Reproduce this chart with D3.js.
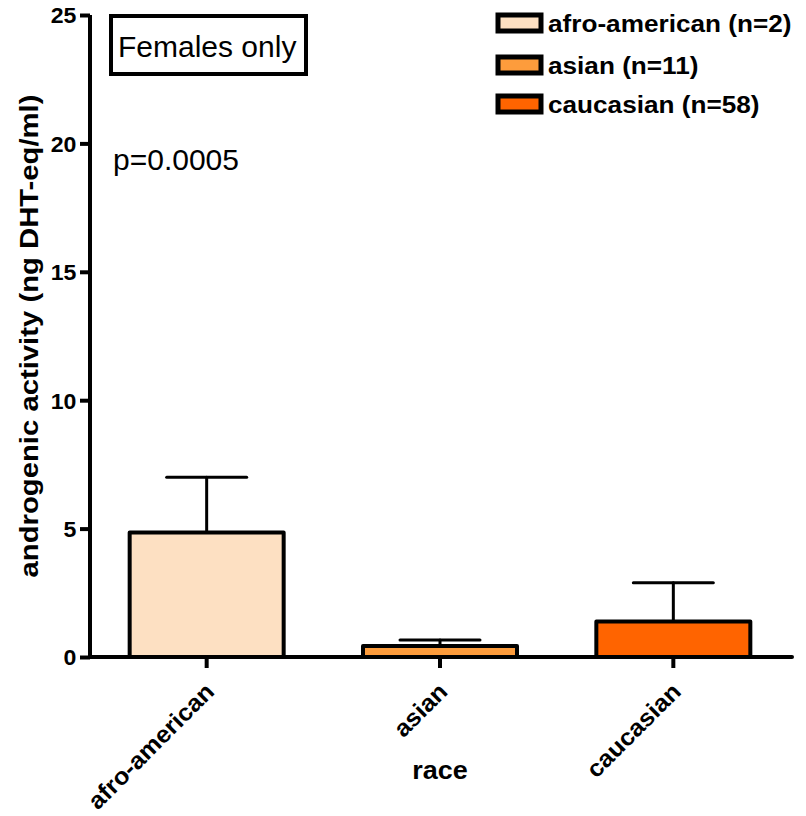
<!DOCTYPE html>
<html>
<head>
<meta charset="utf-8">
<script src="https://cdn.jsdelivr.net/npm/d3@7/dist/d3.min.js"></script>
<style>
  html, body { margin: 0; padding: 0; background: #fff; }
  svg { display: block; font-family: "Liberation Sans", Arial, Helvetica, sans-serif; }
</style>
</head>
<body>
<svg id="chart" width="806" height="816"></svg>
<script>
// Androgenic activity by race (females only): mean with upper SEM bar
const categories = ["afro-american", "asian", "caucasian"];
const means      = [4.85, 0.43, 1.38];
const errors     = [2.15, 0.23, 1.51];
const counts     = [2, 11, 58];
const colors     = ["#FDE0C2", "#FD9C3C", "#FF6400"];
const yTicks     = [0, 5, 10, 15, 20, 25];

const data = categories.map((c, i) => ({ cat: c, mean: means[i], err: errors[i], n: counts[i], color: colors[i] }));

const svg = d3.select("#chart");
const x0 = 90, x1 = 790, yBottom = 657, yTop = 15;

const x = d3.scaleBand().domain(categories).range([x0, x1]).paddingInner(0.34).paddingOuter(0.17);
const y = d3.scaleLinear().domain([0, 25]).range([yBottom, yTop]);

// bars
svg.append("g").selectAll("rect").data(data).join("rect")
  .attr("x", d => x(d.cat))
  .attr("y", d => y(d.mean))
  .attr("width", x.bandwidth())
  .attr("height", d => y(0) - y(d.mean))
  .attr("fill", d => d.color)
  .attr("stroke", "#000")
  .attr("stroke-width", 4)
  .attr("stroke-linejoin", "round");

// upper error bars
const eb = svg.append("g").attr("stroke", "#000").attr("stroke-width", 3).attr("stroke-linecap", "round");
data.forEach(d => {
  const cx = x(d.cat) + x.bandwidth() / 2;
  eb.append("line").attr("x1", cx).attr("x2", cx).attr("y1", y(d.mean)).attr("y2", y(d.mean + d.err));
  eb.append("line").attr("x1", cx - 40).attr("x2", cx + 40).attr("y1", y(d.mean + d.err)).attr("y2", y(d.mean + d.err));
});

// y axis
const yAxis = d3.axisLeft(y).tickValues(yTicks).tickSize(10).tickPadding(3).tickFormat(d3.format("d"));
const gy = svg.append("g").attr("transform", `translate(${x0},0)`).call(yAxis);
gy.select(".domain").attr("stroke", "#000").attr("stroke-width", 4).attr("d", `M0,${yBottom + 2}V${yTop}`);
gy.selectAll(".tick line").attr("stroke", "#000").attr("stroke-width", 4);
gy.selectAll(".tick text").attr("fill", "#000").style("font-size", "22px").style("font-weight", "bold")
  .attr("dy", "0.36em").attr("transform", "scale(1.05,1)");

// x axis
const xAxis = d3.axisBottom(x).tickSize(11).tickFormat("");
const gx = svg.append("g").attr("transform", `translate(0,${yBottom})`).call(xAxis);
gx.select(".domain").attr("stroke", "#000").attr("stroke-width", 4).attr("stroke-linecap", "round").attr("d", `M${x0},0H${x1 + 2}`);
gx.selectAll(".tick line").attr("stroke", "#000").attr("stroke-width", 4);

// rotated category labels (slightly widened glyphs)
svg.append("g").selectAll("text").data(categories).join("text")
  .attr("transform", d => `translate(${x(d) + x.bandwidth() / 2 + 9},${yBottom + 36}) rotate(-45) scale(1.05,1)`)
  .attr("text-anchor", "end")
  .style("font-size", "24px").style("font-weight", "bold")
  .text(d => d);

// axis titles
svg.append("text")
  .attr("transform", `translate(${x(categories[1]) + x.bandwidth() / 2},779) scale(1.08,1)`)
  .attr("text-anchor", "middle")
  .style("font-size", "25px").style("font-weight", "bold")
  .text("race");

svg.append("text")
  .attr("transform", `translate(38,336) rotate(-90)`)
  .attr("text-anchor", "middle")
  .attr("textLength", 483).attr("lengthAdjust", "spacingAndGlyphs")
  .style("font-size", "25px").style("font-weight", "bold")
  .text("androgenic activity (ng DHT-eq/ml)");

// annotation box and p value
svg.append("rect").attr("x", 111).attr("y", 16).attr("width", 195).attr("height", 58)
  .attr("fill", "#fff").attr("stroke", "#000").attr("stroke-width", 4);
svg.append("text").attr("x", 118).attr("y", 57).style("font-size", "30px").text("Females only");
svg.append("text").attr("x", 113).attr("y", 170).style("font-size", "30px").text("p=0.0005");

// legend
const legend = svg.append("g");
const rowY = [32, 74, 113];
data.forEach((d, i) => {
  legend.append("rect").attr("x", 498).attr("y", rowY[i] - 17).attr("width", 43).attr("height", 16)
    .attr("fill", d.color).attr("stroke", "#000").attr("stroke-width", 5);
  legend.append("text").attr("transform", `translate(548,${rowY[i]}) scale(1.09,1)`)
    .style("font-size", "24px").style("font-weight", "bold")
    .text(`${d.cat} (n=${d.n})`);
});
</script>
</body>
</html>
